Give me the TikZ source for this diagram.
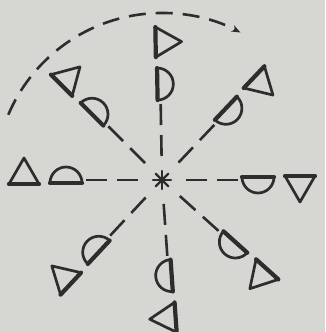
\documentclass[tikz,border=0pt]{standalone}
\usetikzlibrary{arrows.meta}
\definecolor{paper}{RGB}{214,214,210}
\definecolor{ink}{RGB}{45,45,45}
\begin{document}
\begin{tikzpicture}[x=1pt,y=1pt,
  outline/.style={draw=ink, line width=2.7pt, line join=round},
  heavy/.style={draw=ink, line width=4.2pt, line cap=round},
  raydash/.style={draw=ink, line width=2.6pt, dash pattern=on 21pt off 10pt},
  arcdash/.style={draw=ink, line width=2.6pt, dash pattern=on 17pt off 10pt},
  starline/.style={draw=ink, line width=2.2pt, line cap=round}]
\fill[paper] (0,0) rectangle (325,332);
\useasboundingbox (0,0) rectangle (325,332);
\coordinate (c) at (162,152);
\foreach \a in {91,46.5,0,-42,-86,-133,180,135}{
  \begin{scope}[shift={(c)}, rotate=\a-90]
    \draw[outline] (-3,80) -- (-3,112) arc[start angle=90, end angle=-90, radius=16] -- cycle;
    \draw[heavy] (-3,80) -- (-3,112);
    \draw[outline] (-4,123) -- (-4,153) -- (22,138) -- cycle;
    \draw[heavy] (-4,123) -- (-4,153);
    \draw[raydash] (0,76) -- (0,16);
  \end{scope}
}
\foreach \s in {0,45,90,135}{
  \draw[starline] (c) ++(\s:9) -- ++(\s+180:18);
}
\draw[arcdash, -{Stealth[length=9pt,width=7pt]}] (c) ++(157:167) arc[start angle=157, end angle=62, radius=167];
\end{tikzpicture}
\end{document}
